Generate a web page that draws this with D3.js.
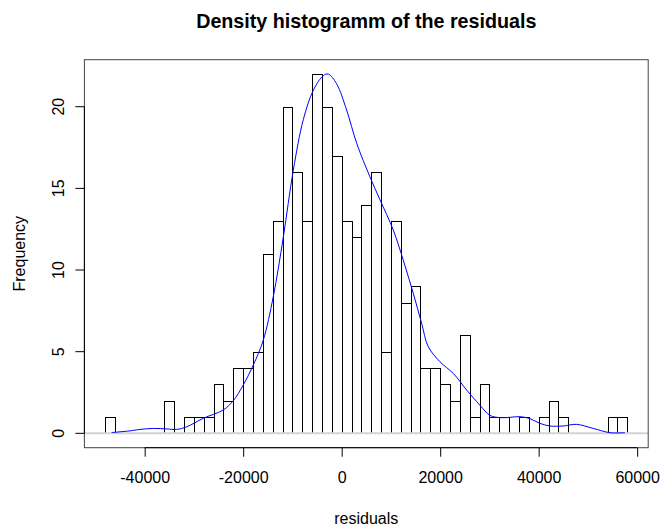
<!DOCTYPE html>
<html>
<head>
<meta charset="utf-8">
<script src="https://cdn.jsdelivr.net/npm/d3@7"></script>
<style>
  html, body { margin: 0; padding: 0; background: #fff; }
  svg { display: block; }
  text { font-family: "Liberation Sans", Arial, sans-serif; fill: #000; }
</style>
</head>
<body>
<svg id="chart" width="660" height="526"></svg>
<script>
// ---- data ----
const binStarts = [-48000,-46000,-44000,-42000,-40000,-38000,-36000,-34000,-32000,-30000,
  -28000,-26000,-24000,-22000,-20000,-18000,-16000,-14000,-12000,-10000,
  -8000,-6000,-4000,-2000,0,2000,4000,6000,8000,10000,
  12000,14000,16000,18000,20000,22000,24000,26000,28000,30000,
  32000,34000,36000,38000,40000,42000,44000,46000,48000,50000,
  52000,54000,56000];
const binWidth = 2000;
const counts = [1,0,0,0,0,0,2,0,1,1,
  1,3,2,4,4,5,11,13,20,16,
  13,22,20,17,13,12,14,16,5,13,
  8,9,4,4,3,2,6,1,3,1,
  1,0,1,0,1,2,1,0,0,0,
  0,1,1];
// density curve (scaled to frequency)
const densX = [-46700,-43000,-40950,-38250,-35500,-33500,-31470,-28100,-24040,-22010,
  -19980,-17950,-15920,-13890,-11860,-9830,-7800,-5770,-3740,-2720,
  -1020,1000,3050,5750,7780,10480,12510,14540,16240,17590,
  19960,22660,25380,28080,30110,32140,34170,36200,38230,40260,
  42290,44990,47700,51090,54470,57520];
const densY = [0.05,0.15,0.24,0.3,0.27,0.24,0.4,0.92,1.43,2.0,
  2.96,4.18,5.71,8.37,12.0,16.1,19.2,21.0,21.9,22.0,
  21.4,19.8,17.76,15.7,14.3,12.45,10.6,8.57,6.73,5.3,
  4.38,3.67,2.65,1.72,1.1,0.96,0.98,1.02,0.9,0.61,
  0.45,0.45,0.55,0.3,0.04,0.04];
const xTicks = [-40000,-20000,0,20000,40000,60000];
const yTicks = [0,5,10,15,20];
const titleText = "Density histogramm of the residuals";
const xLabel = "residuals";
const yLabel = "Frequency";

// ---- layout ----
const svg = d3.select("#chart");
const xMin = binStarts[0], xMax = binStarts[binStarts.length-1] + binWidth;
const xPad = (xMax - xMin) * 0.04;
const yMax = d3.max(counts), yPad = yMax * 0.04;
const x = d3.scaleLinear().domain([xMin - xPad, xMax + xPad]).range([84.4, 648.2]);
const y = d3.scaleLinear().domain([-yPad, yMax + yPad]).range([447.7, 59.7]);

// bars
svg.append("g").selectAll("rect").data(binStarts).join("rect")
  .attr("x", (d) => Math.round(x(d)) + 0.5)
  .attr("y", (d, i) => Math.round(y(counts[i])) + 0.5)
  .attr("width", (d) => Math.round(x(d + binWidth)) - Math.round(x(d)))
  .attr("height", (d, i) => Math.round(y(0)) - Math.round(y(counts[i])))
  .attr("fill", "#fff").attr("stroke", "#000").attr("stroke-width", 1);

// zero line
svg.append("line")
  .attr("x1", x.range()[0]).attr("x2", x.range()[1])
  .attr("y1", y(0)).attr("y2", y(0))
  .attr("stroke", "#d3d3d3").attr("stroke-width", 2);

// density curve
const line = d3.line().x((d, i) => x(densX[i])).y((d) => y(d)).curve(d3.curveCatmullRom.alpha(0.5));
svg.append("path").attr("d", line(densY))
  .attr("fill", "none").attr("stroke", "#0000ff").attr("stroke-width", 1);

// box
svg.append("rect")
  .attr("x", x.range()[0]).attr("y", y.range()[1])
  .attr("width", x.range()[1] - x.range()[0]).attr("height", y.range()[0] - y.range()[1])
  .attr("fill", "none").attr("stroke", "#444").attr("stroke-width", 1);

// x axis
const xAxis = svg.append("g").attr("transform", `translate(0,${y.range()[0]})`)
  .call(d3.axisBottom(x).tickValues(xTicks).tickSize(9).tickSizeOuter(0).tickPadding(15)
    .tickFormat((d) => String(d)));
xAxis.select(".domain").remove();
xAxis.selectAll("line").attr("stroke", "#000");
xAxis.selectAll("text").attr("font-size", 16).attr("font-family", "Liberation Sans, Arial, sans-serif").attr("fill", "#000");
xAxis.append("line").attr("x1", x(xTicks[0])).attr("x2", x(xTicks[xTicks.length-1])).attr("stroke", "#000");

// y axis
const yAxis = svg.append("g").attr("transform", `translate(${x.range()[0]},0)`);
yAxis.append("line").attr("y1", y(yTicks[0])).attr("y2", y(yTicks[yTicks.length-1])).attr("stroke", "#000");
yAxis.selectAll("line.tk").data(yTicks).join("line").attr("class", "tk")
  .attr("x1", 0).attr("x2", -9).attr("y1", (d) => y(d)).attr("y2", (d) => y(d)).attr("stroke", "#000");
yAxis.selectAll("text").data(yTicks).join("text")
  .attr("transform", (d) => `translate(-20,${y(d)}) rotate(-90)`)
  .attr("text-anchor", "middle").attr("font-size", 16).text((d) => String(d));

// labels
svg.append("text").attr("x", (x.range()[0] + x.range()[1]) / 2).attr("y", 28)
  .attr("text-anchor", "middle").attr("font-size", 19.7).attr("font-weight", "bold").text(titleText);
svg.append("text").attr("x", (x.range()[0] + x.range()[1]) / 2).attr("y", 524)
  .attr("text-anchor", "middle").attr("font-size", 16).text(xLabel);
svg.append("text").attr("transform", `translate(25,${(y.range()[0] + y.range()[1]) / 2}) rotate(-90)`)
  .attr("text-anchor", "middle").attr("font-size", 16).text(yLabel);
</script>
</body>
</html>
